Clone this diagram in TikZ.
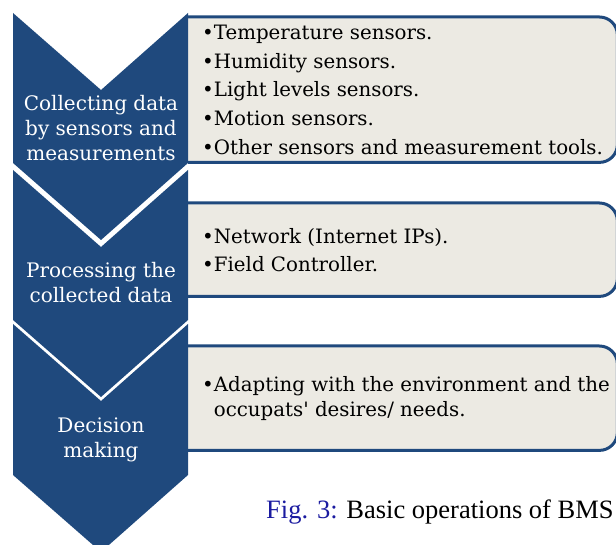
\documentclass[tikz,border=0pt]{standalone}
\usepackage{fontspec}
\setmainfont{DejaVu Serif}
\newfontfamily\plainserif{DejaVu Serif}
\newfontfamily\capfont{Liberation Serif}
\definecolor{chev}{HTML}{1F497D}
\definecolor{boxfill}{HTML}{ECEAE3}
\definecolor{capblue}{HTML}{1B1BA0}
\begin{document}
\begin{tikzpicture}[x=1pt,y=-1pt,
  chevron/.style={fill=chev},
  chevtext/.style={text=white, align=center, inner sep=0pt, font=\fontsize{20}{25}\selectfont},
  boxframe/.style={anchor=north west, inner sep=0pt, minimum width=429pt},
  boxpath/.style={draw=chev, line width=3pt, fill=boxfill, rounded corners=18pt},
  infotext/.style={anchor=west, align=left, inner sep=0pt, text=black, xshift=14pt},
]
\useasboundingbox (0,0) rectangle (616,545);
\clip (0,0) rectangle (616,545);

% boxes (flat on the left, rounded on the right)
\node[boxframe, minimum height=145pt] (b1) at (188,17) {};
\node[boxframe, minimum height=93pt] (b2) at (188,203) {};
\node[boxframe, minimum height=104pt] (b3) at (188,346) {};
\foreach \b in {b1,b2,b3}
  \filldraw[boxpath] (\b.north west) -- (\b.north east) -- (\b.south east) -- (\b.south west);

% chevrons
\fill[chevron] (13,13) -- (101,90) -- (188,13) -- (188,163) -- (101,240) -- (13,163) -- cycle;
\fill[chevron] (13,170) -- (101,247) -- (188,170) -- (188,320) -- (101,397) -- (13,320) -- cycle;
\fill[chevron] (13,324) -- (101,401) -- (188,324) -- (188,475) -- (101,552) -- (13,475) -- cycle;

% chevron texts
\node[chevtext] (c1) at (101,128) {Collecting data\\by sensors and\\measurements};
\node[chevtext] (c2) at (101,283) {Processing the\\collected data};
\node[chevtext] (c3) at (101,440) {Decision\\making};

% box texts
\node[infotext, font=\fontsize{19.8}{28.7}\selectfont] (t1) at (b1.west)
  {•Temperature sensors.\\•Humidity sensors.\\•Light levels sensors.\\•Motion sensors.\\•Other sensors and measurement tools.};
\node[infotext, font=\fontsize{19.8}{28}\selectfont] (t2) at (b2.west)
  {•Network (Internet IPs).\\•Field Controller.};
\node[infotext, font=\fontsize{19.8}{25}\selectfont] (t3) at (b3.west)
  {•Adapting with the environment and the\\\phantom{•}occupats{\plainserif'} desires/ needs.};

% caption
\node[anchor=base west, inner sep=0pt, font=\capfont\fontsize{26.5}{30}\selectfont] (cap) at (266,518)
  {\textcolor{capblue}{Fig. 3:} Basic operations of BMS};
\end{tikzpicture}
\end{document}
